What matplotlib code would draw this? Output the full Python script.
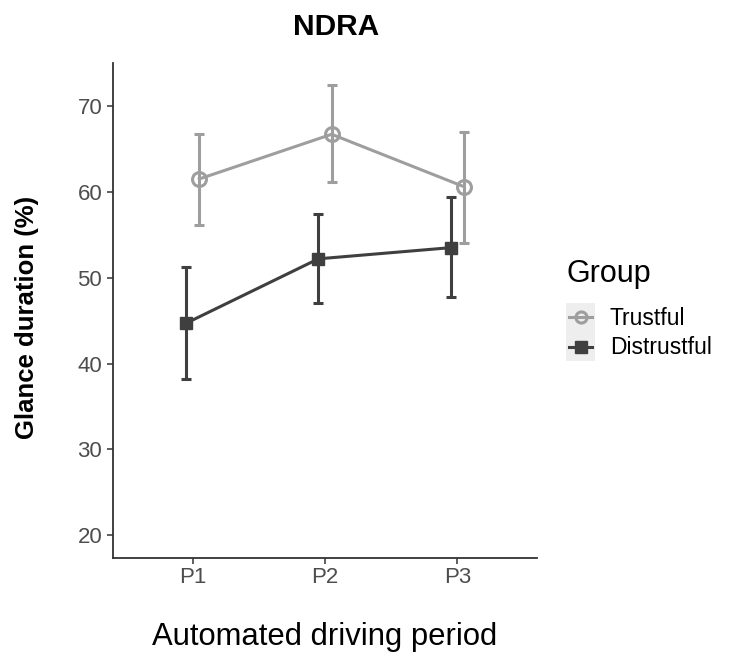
import matplotlib
matplotlib.use("Agg")
import matplotlib.pyplot as plt
from matplotlib.lines import Line2D
from matplotlib.patches import Rectangle
from matplotlib.legend_handler import HandlerBase
import numpy as np

plt.rcParams['font.family'] = ['Liberation Sans', 'DejaVu Sans']

periods = ["P1", "P2", "P3"]
groups = ["Trustful", "Distrustful"]
trustful_mean = [61.5, 66.7, 60.6]
trustful_low = [56.1, 61.1, 54.1]
trustful_high = [66.7, 72.4, 67.0]
distrustful_mean = [44.7, 52.2, 53.5]
distrustful_low = [38.2, 47.0, 47.7]
distrustful_high = [51.2, 57.4, 59.4]

colors = {"Trustful": "#9e9e9e", "Distrustful": "#3f3f3f"}
dodge = {"Trustful": 0.05, "Distrustful": -0.05}

fig = plt.figure(figsize=(7.29, 6.57), dpi=100)
ax = fig.add_axes([113.3/729, 1-557.7/657, (536.7-113.3)/729, (557.7-63)/657])

x = np.arange(1, len(periods)+1)
data = {
    "Trustful": (trustful_mean, trustful_low, trustful_high, 'o'),
    "Distrustful": (distrustful_mean, distrustful_low, distrustful_high, 's'),
}
for g in ["Trustful", "Distrustful"]:
    m, lo, hi, mk = data[g]
    m = np.array(m); lo = np.array(lo); hi = np.array(hi)
    xs = x + dodge[g]
    c = colors[g]
    ax.errorbar(xs, m, yerr=[m-lo, hi-m], fmt='none', ecolor=c, elinewidth=2.2,
                capsize=3.5, capthick=2.2, zorder=2)
    if mk == 'o':
        ax.plot(xs, m, color=c, lw=2.2, marker='o', markersize=10,
                markerfacecolor='none', markeredgecolor=c, markeredgewidth=2.2, zorder=3)
    else:
        ax.plot(xs, m, color=c, lw=2.2, marker='s', markersize=9,
                markerfacecolor=c, markeredgecolor=c, zorder=3)

ax.set_xlim(0.4, 3.6)
ax.set_ylim(17.4, 75.0)
ax.set_xticks(x)
ax.set_xticklabels(periods)
ax.set_yticks([20, 30, 40, 50, 60, 70])
for s in ['top', 'right']:
    ax.spines[s].set_visible(False)
for s in ['left', 'bottom']:
    ax.spines[s].set_color('#333333')
    ax.spines[s].set_linewidth(1.3)
ax.tick_params(axis='both', colors='#333333', length=4, width=1.1,
               labelsize=16, labelcolor='#4d4d4d')
ax.tick_params(axis='y', pad=4)
ax.tick_params(axis='x', pad=3)

ax.set_xlabel("Automated driving period", fontsize=22.3, color='black')
ax.xaxis.set_label_coords(0.5, -(637-557.7)/(557.7-63), transform=ax.transAxes)
ax.xaxis.label.set_va('center')
ax.set_ylabel("Glance duration (%)", fontsize=18.5, fontweight='bold', color='black')
ax.yaxis.set_label_coords(-(113.3-27)/(536.7-113.3), 0.5 - (317-310)/(557.7-63))
ax.yaxis.label.set_va('center')

fig.text(336/729, 1-27/657, "NDRA", fontsize=21.5, fontweight='bold',
         ha='center', va='center')


class KeyHandler(HandlerBase):
    def create_artists(self, legend, orig_handle, xdescent, ydescent, width,
                       height, fontsize, trans):
        x0, y0 = -xdescent, -ydescent
        rect = Rectangle((x0, y0), width, height, facecolor='#eeeeee',
                         edgecolor='none', transform=trans)
        yc = y0 + height / 2
        c = orig_handle.get_color()
        ln = Line2D([x0 + 2, x0 + width - 2], [yc, yc], color=c, lw=2.2,
                    transform=trans)
        mk = Line2D([x0 + width / 2], [yc], marker=orig_handle.get_marker(),
                    markersize=orig_handle.get_markersize(),
                    markerfacecolor=orig_handle.get_markerfacecolor(),
                    markeredgecolor=c, markeredgewidth=orig_handle.get_markeredgewidth(),
                    linestyle='none', transform=trans)
        return [rect, ln, mk]


handles = [
    Line2D([0], [0], color=colors["Trustful"], lw=2.2, marker='o', markersize=8,
           markerfacecolor='none', markeredgewidth=2.2),
    Line2D([0], [0], color=colors["Distrustful"], lw=2.2, marker='s', markersize=8,
           markerfacecolor=colors["Distrustful"]),
]
leg = fig.legend(handles, groups, title="Group", loc='upper left',
                 bbox_to_anchor=(566/729, 1-259/657), frameon=False,
                 fontsize=16.5, title_fontsize=22, handlelength=1.27, handleheight=1.55,
                 handletextpad=0.65, labelspacing=0.03, borderaxespad=0,
                 borderpad=0,
                 handler_map={Line2D: KeyHandler()})
leg._legend_box.align = "left"
leg._legend_box.sep = 10

fig.savefig("out.png", dpi=100)
